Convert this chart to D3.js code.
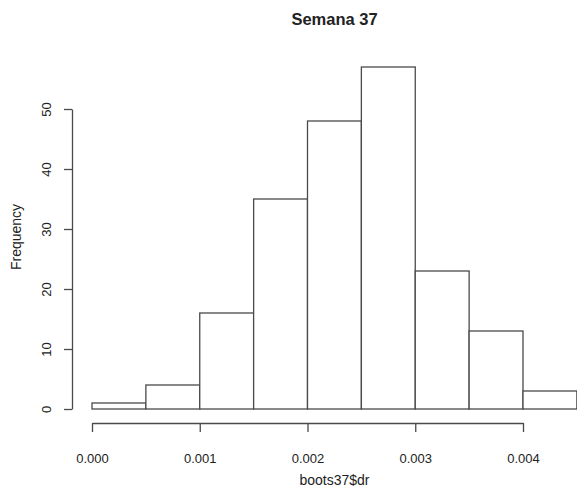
<!DOCTYPE html>
<html>
<head>
<meta charset="utf-8">
<script src="https://cdn.jsdelivr.net/npm/d3@7"></script>
<style>
  body { margin: 0; background: #fff; }
  svg text { font-family: "Liberation Sans", Arial, sans-serif; fill: #222; }
</style>
</head>
<body>
<script>
// histogram bins of boots37$dr (bin width 0.0005)
const binStarts = [0, 0.0005, 0.001, 0.0015, 0.002, 0.0025, 0.003, 0.0035, 0.004]
const binEnds = [0.0005, 0.001, 0.0015, 0.002, 0.0025, 0.003, 0.0035, 0.004, 0.0045]
const counts = [1, 4, 16, 35, 48, 57, 23, 13, 3]
const xTicks = [0, 0.001, 0.002, 0.003, 0.004]
const yTicks = [0, 10, 20, 30, 40, 50]

const w = 577
const h = 495
const lineColor = "#4a4a4a"

const svg = d3.select("body")
  .append("svg")
  .attr("width", w)
  .attr("height", h)

const xScale = d3.scaleLinear()
  .domain([0, 0.004])
  .range([92, 523])

const yScale = d3.scaleLinear()
  .domain([0, 50])
  .range([409, 109])

const bins = counts.map((c, i) => ({ x0: binStarts[i], x1: binEnds[i], count: c }))

svg.selectAll("rect.bar")
  .data(bins)
  .enter()
  .append("rect")
  .attr("class", "bar")
  .attr("x", (d) => xScale(d.x0))
  .attr("y", (d) => yScale(d.count))
  .attr("width", (d) => xScale(d.x1) - xScale(d.x0))
  .attr("height", (d) => yScale(0) - yScale(d.count))
  .style("fill", "#fff")
  .style("stroke", lineColor)
  .style("stroke-width", 1.3)

// x axis sits below the bars, like R's base graphics
const xAxis = d3.axisBottom(xScale)
  .tickValues(xTicks)
  .tickFormat(d3.format(".3f"))
  .tickSize(9)
  .tickSizeOuter(0)

const gx = svg.append("g")
  .attr("transform", "translate(0,423)")
  .call(xAxis)
gx.selectAll("path, line").attr("stroke", lineColor).attr("stroke-width", 1.3)
gx.selectAll("text")
  .attr("y", 35)
  .attr("dy", "0.35em")
  .style("font-size", "13px")
  .style("fill", "#222")

const yAxis = d3.axisLeft(yScale)
  .tickValues(yTicks)
  .tickSize(8)
  .tickSizeOuter(0)

const gy = svg.append("g")
  .attr("transform", "translate(72,0)")
  .call(yAxis)
gy.selectAll("path, line").attr("stroke", lineColor).attr("stroke-width", 1.3)
gy.selectAll("text")
  .attr("x", null)
  .attr("dy", "0.35em")
  .attr("transform", "translate(-26,0) rotate(-90)")
  .attr("text-anchor", "middle")
  .style("font-size", "13px")
  .style("fill", "#222")

svg.append("text")
  .attr("x", 334.5)
  .attr("y", 24.5)
  .attr("text-anchor", "middle")
  .style("font-size", "16.5px")
  .style("font-weight", "bold")
  .text("Semana 37")

svg.append("text")
  .attr("x", 334.5)
  .attr("y", 480)
  .attr("dy", "0.35em")
  .attr("text-anchor", "middle")
  .style("font-size", "14px")
  .text("boots37$dr")

svg.append("text")
  .attr("transform", "translate(16.5,237) rotate(-90)")
  .attr("dy", "0.35em")
  .attr("text-anchor", "middle")
  .style("font-size", "14px")
  .text("Frequency")
</script>
</body>
</html>
